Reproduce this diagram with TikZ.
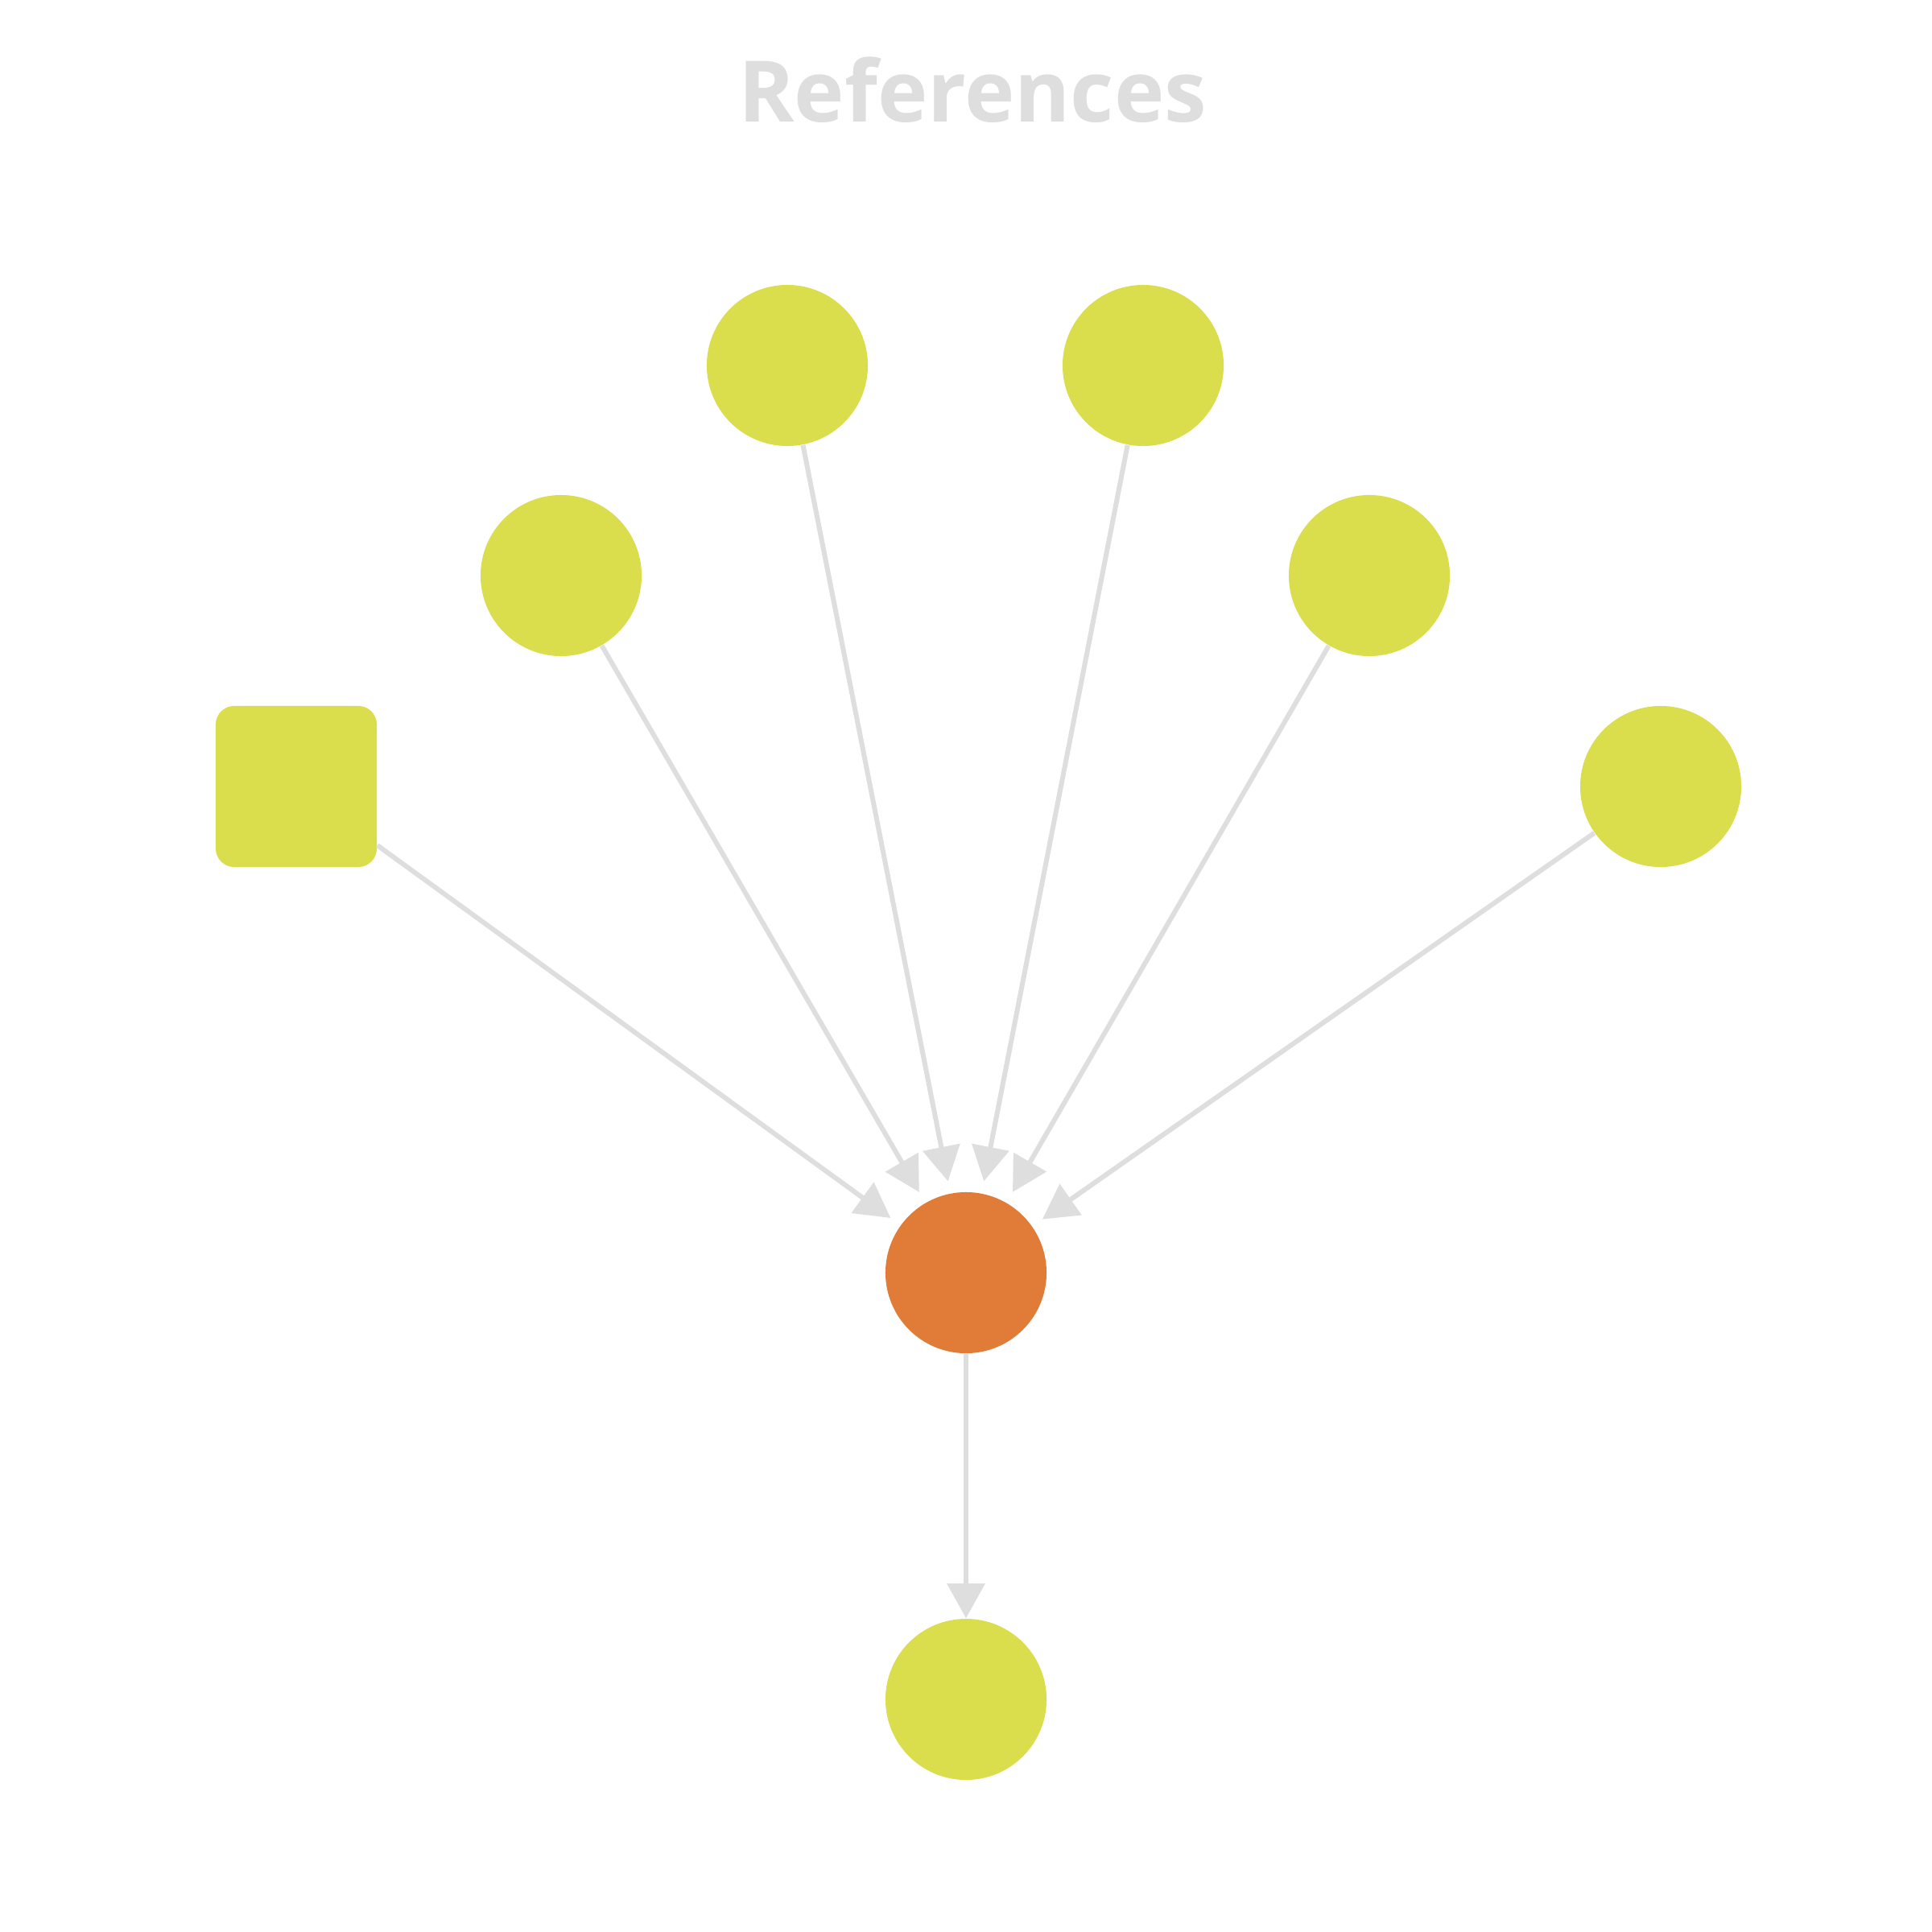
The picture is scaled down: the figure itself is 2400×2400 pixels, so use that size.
\documentclass[tikz,border=0pt]{standalone}
\usepackage{fontspec}
\setmainfont{Open Sans}
\usetikzlibrary{arrows.meta}
\definecolor{pick}{HTML}{DADD4C}
\definecolor{hub}{HTML}{E07C38}
\definecolor{wire}{HTML}{DEDEDE}
\tikzset{
    champ/.style={circle,fill=pick,minimum size=2cm,inner sep=0pt},
    link/.style={draw=wire,line width=0.6mm,-{Triangle[width=4.6mm,length=4.3mm]},shorten >=1.5mm},
}
\begin{document}
\begin{tikzpicture}[x=0.01cm,y=-0.01cm]
    \useasboundingbox (0,0) rectangle (2400,2400);
    \node[text=wire,font=\bfseries\fontsize{30}{36}\selectfont] (title) at (1208,112) {References};
    % candidates
    \node[champ] (top1) at (978,454) {};
    \node[champ] (top2) at (1420,454) {};
    \node[champ] (mid1) at (697,715) {};
    \node[champ] (mid2) at (1701,715) {};
    \node[fill=pick,minimum size=2cm,inner sep=0pt,rounded corners=2.3mm] (box) at (368,977) {};
    \node[champ] (side) at (2063,977) {};
    % hub and result
    \node[circle,fill=hub,minimum size=2cm,inner sep=0pt] (hub) at (1200,1581) {};
    \node[champ] (out) at (1200,2111) {};
    \foreach \src in {box,mid1,top1,top2,mid2,side}
        \draw[link] (\src) -- (hub);
    \draw[link,shorten >=0pt] (hub) -- (out);
\end{tikzpicture}
\end{document}
